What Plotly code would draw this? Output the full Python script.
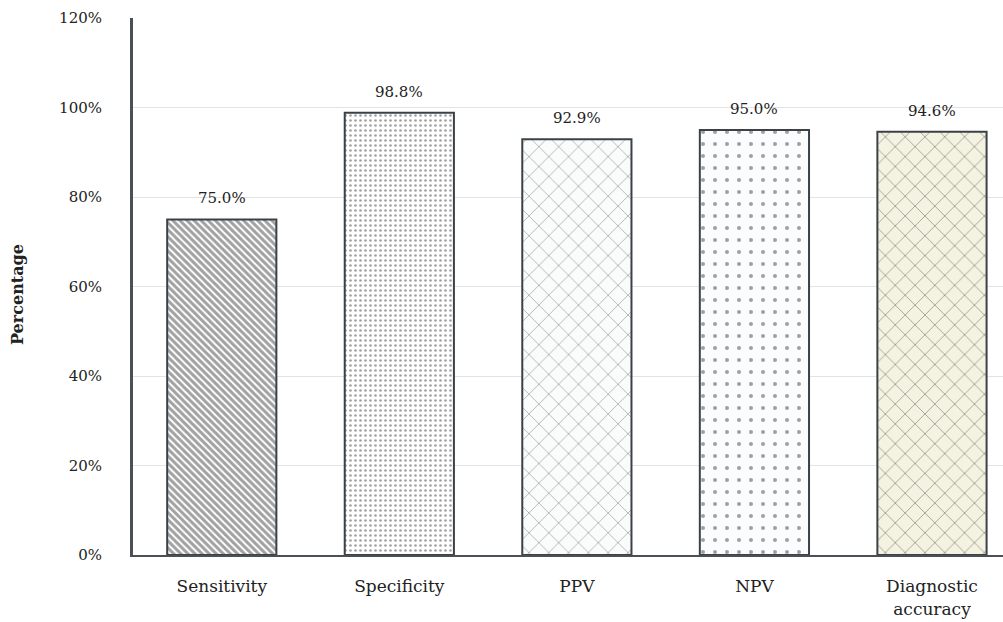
import plotly.graph_objects as go

categories = ["Sensitivity", "Specificity", "PPV", "NPV", "Diagnostic<br>accuracy"]
values = [75.0, 98.8, 92.9, 95.0, 94.6]
labels = ["75.0%", "98.8%", "92.9%", "95.0%", "94.6%"]
y_ticks = [0, 20, 40, 60, 80, 100, 120]
y_tick_text = ["0%", "20%", "40%", "60%", "80%", "100%", "120%"]

shapes_ = ["\\", ".", "x", ".", "x"]
bgcolors = ["#ffffff", "#ffffff", "#fafbfb", "#fbfcfd", "#f4f3e1"]
fgcolors = ["#262c31", "#959595", "#c3c8ca", "#b3bdcc", "#a2a48c"]
sizes = [5, 5, 14, 12, 14]
solidity = [0.6, 0.22, 0.1, 0.09, 0.12]

font_family = "DejaVu Serif"
text_color = "#222222"

fig = go.Figure()
fig.add_trace(go.Bar(
    x=list(range(len(categories))),
    y=values,
    width=0.615,
    marker=dict(
        color=bgcolors,
        line=dict(color="#3b4247", width=2),
        pattern=dict(
            shape=shapes_,
            bgcolor=bgcolors,
            fgcolor=fgcolors,
            size=sizes,
            solidity=solidity,
            fillmode="overlay",
        ),
    ),
    showlegend=False,
    hoverinfo="skip",
))

for i, (v, lab) in enumerate(zip(values, labels)):
    fig.add_annotation(
        x=i, y=v, text=lab, showarrow=False, yshift=21,
        xanchor="center", yanchor="middle",
        font=dict(family=font_family, size=15, color=text_color),
    )

fig.add_annotation(
    xref="paper", yref="paper", x=-(133 - 17) / 870, y=(555 - 295) / 537,
    text="<b>Percentage</b>", textangle=-90, showarrow=False,
    xanchor="center", yanchor="middle",
    font=dict(family=font_family, size=16, color=text_color),
)

fig.update_layout(
    width=1003,
    height=622,
    margin=dict(l=133, r=0, t=18, b=67, autoexpand=False),
    paper_bgcolor="white",
    plot_bgcolor="white",
    font=dict(family=font_family, size=15, color=text_color),
    xaxis=dict(
        range=[-0.5, 4.4],
        tickmode="array",
        tickvals=list(range(len(categories))),
        ticktext=categories,
        showgrid=False,
        showline=True,
        linecolor="#4a5055",
        linewidth=2,
        ticks="",
        automargin=False,
        ticklabelstandoff=15,
        tickfont=dict(family=font_family, size=17, color=text_color),
        zeroline=False,
    ),
    yaxis=dict(
        range=[0, 120],
        tickmode="array",
        tickvals=y_ticks,
        ticktext=y_tick_text,
        showgrid=True,
        gridcolor="#e3e3e3",
        gridwidth=1,
        showline=True,
        linecolor="#4a5055",
        linewidth=3,
        ticks="",
        automargin=False,
        ticklabelstandoff=25,
        zeroline=False,
        tickfont=dict(family=font_family, size=15, color=text_color),
    ),
)

fig.write_html(
    "out.html",
    config={"displayModeBar": False},
    post_script="document.body.style.margin='0';document.body.style.overflow='hidden';",
)
